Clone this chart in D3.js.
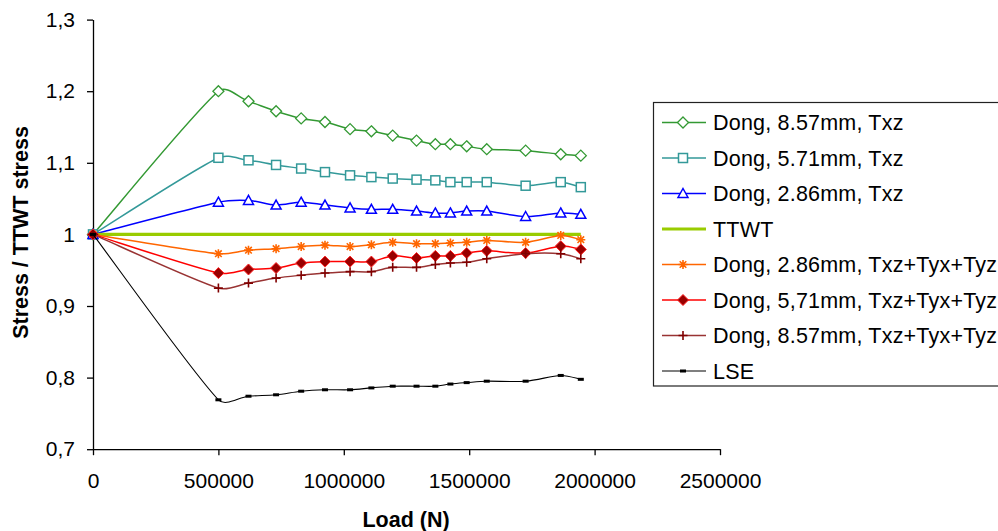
<!DOCTYPE html>
<html>
<head>
<meta charset="utf-8">
<script src="https://cdn.jsdelivr.net/npm/d3@7"></script>
<style>
  html, body { margin: 0; padding: 0; background: #fff; }
  svg { display: block; }
  text { font-family: "Liberation Sans", Arial, sans-serif; fill: #000; }
</style>
</head>
<body>
<svg id="chart" width="998" height="531"></svg>
<script>
// ---- data ----
const loads = [0, 500000, 620000, 730000, 830000, 925000, 1025000, 1110000, 1195000, 1290000, 1365000, 1425000, 1490000, 1570000, 1725000, 1865000, 1945000];

const dong857Txz = [1, 1.200, 1.186, 1.172, 1.162, 1.157, 1.147, 1.144, 1.138, 1.131, 1.126, 1.126, 1.123, 1.119, 1.117, 1.112, 1.110];
const dong571Txz = [1, 1.107, 1.1035, 1.097, 1.092, 1.087, 1.0825, 1.080, 1.078, 1.0765, 1.0755, 1.073, 1.073, 1.073, 1.068, 1.073, 1.066];
const dong286Txz = [1, 1.045, 1.0475, 1.041, 1.045, 1.041, 1.037, 1.035, 1.035, 1.0326, 1.030, 1.030, 1.0326, 1.0326, 1.025, 1.030, 1.028];
const ttwt       = [1, 1, 1, 1, 1, 1, 1, 1, 1, 1, 1, 1, 1, 1, 1, 1, 1];
const dong286All = [1, 0.973, 0.978, 0.980, 0.983, 0.985, 0.983, 0.9855, 0.989, 0.987, 0.987, 0.988, 0.989, 0.9916, 0.989, 0.9986, 0.9926];
const dong571All = [1, 0.946, 0.951, 0.953, 0.960, 0.962, 0.962, 0.962, 0.970, 0.967, 0.970, 0.970, 0.974, 0.977, 0.974, 0.9836, 0.979];
const dong857All = [1, 0.925, 0.932, 0.939, 0.943, 0.946, 0.948, 0.948, 0.954, 0.954, 0.958, 0.960, 0.961, 0.966, 0.973, 0.973, 0.966];
const lse        = [1, 0.769, 0.774, 0.776, 0.781, 0.783, 0.783, 0.7856, 0.788, 0.788, 0.788, 0.791, 0.793, 0.795, 0.795, 0.803, 0.7976];

const seriesNames = ["Dong, 8.57mm, Txz", "Dong, 5.71mm, Txz", "Dong, 2.86mm, Txz", "TTWT",
  "Dong, 2.86mm, Txz+Tyx+Tyz", "Dong, 5,71mm, Txz+Tyx+Tyz", "Dong, 8.57mm, Txz+Tyx+Tyz", "LSE"];
const seriesValues = [dong857Txz, dong571Txz, dong286Txz, ttwt, dong286All, dong571All, dong857All, lse];

const xTicks = [0, 500000, 1000000, 1500000, 2000000, 2500000];
const yTicks = [0.7, 0.8, 0.9, 1.0, 1.1, 1.2, 1.3];
const xTitle = "Load (N)";
const yTitle = "Stress / TTWT stress";

// ---- styles ----
const styles = [
  { color: "#339933", width: 1.5, marker: "diamondOpen" },
  { color: "#339999", width: 1.5, marker: "squareOpen" },
  { color: "#0000ff", width: 1.5, marker: "triangleOpen" },
  { color: "#99cc00", width: 3.2, marker: null },
  { color: "#ff6600", width: 1.5, marker: "star" },
  { color: "#ff0000", width: 1.5, marker: "diamondFilled" },
  { color: "#993333", width: 1.5, marker: "plus" },
  { color: "#000000", width: 1.1, marker: "dash" }
];

// Excel-like smoothing curve for d3.line: Bezier segments whose tangent at each
// point follows (next - previous), with handles limited by the segment length.
function ExcelSmooth(context) { this._context = context; }
ExcelSmooth.prototype = {
  areaStart() { this._line = 0; },
  areaEnd() { this._line = NaN; },
  lineStart() { this._pts = []; },
  point(x, y) { this._pts.push([+x, +y]); },
  lineEnd() {
    const p = this._pts, n = p.length, c = this._context;
    if (!n) return;
    c.moveTo(p[0][0], p[0][1]);
    if (n === 1) return;
    const tan = p.map((pt, i) => {
      const a = p[Math.max(0, i - 1)], b = p[Math.min(n - 1, i + 1)];
      const dx = b[0] - a[0], dy = b[1] - a[1], L = Math.hypot(dx, dy) || 1;
      return [dx / L, dy / L, L];
    });
    for (let i = 0; i < n - 1; i++) {
      const a = p[i], b = p[i + 1];
      const d = Math.hypot(b[0] - a[0], b[1] - a[1]);
      const ha = Math.min(tan[i][2] / 6, d / 3);
      const hb = Math.min(tan[i + 1][2] / 6, d / 3);
      c.bezierCurveTo(a[0] + tan[i][0] * ha, a[1] + tan[i][1] * ha,
                      b[0] - tan[i + 1][0] * hb, b[1] - tan[i + 1][1] * hb,
                      b[0], b[1]);
    }
  }
};
const excelSmooth = ctx => new ExcelSmooth(ctx);

const svg = d3.select("#chart");

const x = d3.scaleLinear().domain([0, 2500000]).range([93, 720]);
const y = d3.scaleLinear().domain([0.7, 1.3]).range([449.2, 19.6]);

// axes
const xAxis = d3.axisBottom(x).tickValues(xTicks).tickFormat(d3.format("d")).tickSize(6).tickSizeOuter(0).tickPadding(18);
const yAxis = d3.axisLeft(y).tickValues(yTicks).tickFormat(d => d3.format(".1~f")(d).replace(".", ",")).tickSize(6).tickSizeOuter(0).tickPadding(12);

const gx = svg.append("g").attr("transform", `translate(0,${y(0.7)})`).call(xAxis);
const gy = svg.append("g").attr("transform", `translate(${x(0)},0)`).call(yAxis);
[gx, gy].forEach(g => {
  g.selectAll("path.domain").attr("stroke", "#000").attr("stroke-width", 1.3);
  g.selectAll(".tick line").attr("stroke", "#000").attr("stroke-width", 1.3);
  g.selectAll("text").attr("font-size", 21).attr("font-family", "Liberation Sans, Arial, sans-serif").attr("fill", "#000");
});

// titles
svg.append("text").attr("x", 406).attr("y", 526.5).attr("text-anchor", "middle")
  .attr("font-size", 21.5).attr("font-weight", "bold").text(xTitle);
svg.append("text").attr("transform", "translate(28.3,232.5) rotate(-90)").attr("text-anchor", "middle")
  .attr("font-size", 21.5).attr("font-weight", "bold").text(yTitle);

// markers
function drawMarker(g, type, color) {
  switch (type) {
    case "diamondOpen":
      g.append("path").attr("d", "M0,-5.5L5.5,0L0,5.5L-5.5,0Z").attr("fill", "#fff").attr("stroke", color).attr("stroke-width", 1.3); break;
    case "squareOpen":
      g.append("rect").attr("x", -4.5).attr("y", -4.5).attr("width", 9).attr("height", 9).attr("fill", "#fff").attr("stroke", color).attr("stroke-width", 1.5); break;
    case "triangleOpen":
      g.append("path").attr("d", "M0,-5L5,4L-5,4Z").attr("fill", "#fff").attr("stroke", color).attr("stroke-width", 1.5); break;
    case "star":
      g.append("path").attr("d", "M-4.5,0H4.5M0,-4.5V4.5M-3.3,-3.3L3.3,3.3M-3.3,3.3L3.3,-3.3").attr("stroke", color).attr("stroke-width", 1.6); break;
    case "diamondFilled":
      g.append("path").attr("d", "M0,-5.5L5.5,0L0,5.5L-5.5,0Z").attr("fill", "#990000").attr("stroke", "#ff2020").attr("stroke-width", 1); break;
    case "plus":
      g.append("path").attr("d", "M-4.5,0H4.5M0,-4.5V4.5").attr("stroke", "#800000").attr("stroke-width", 1.6); break;
    case "dash":
      g.append("rect").attr("x", -3).attr("y", -1.5).attr("width", 6).attr("height", 3).attr("fill", "#000"); break;
  }
}

const line = d3.line().x(d => x(d[0])).y(d => y(d[1])).curve(excelSmooth);

seriesValues.forEach((vals, i) => {
  const st = styles[i];
  const pts = loads.map((l, j) => [l, vals[j]]);
  const g = svg.append("g");
  g.append("path").attr("d", line(pts)).attr("fill", "none").attr("stroke", st.color).attr("stroke-width", st.width);
  if (st.marker) {
    pts.forEach(p => {
      const mg = g.append("g").attr("transform", `translate(${x(p[0])},${y(p[1])})`);
      drawMarker(mg, st.marker, st.color);
    });
  }
});

// legend
const legend = svg.append("g");
legend.append("rect").attr("x", 653.5).attr("y", 102.5).attr("width", 400).attr("height", 283.5)
  .attr("fill", "#fff").attr("stroke", "#222").attr("stroke-width", 1.2);
seriesNames.forEach((name, i) => {
  const st = styles[i];
  const ly = 122.5 + i * 35.5;
  legend.append("line").attr("x1", 662).attr("x2", 706).attr("y1", ly).attr("y2", ly)
    .attr("stroke", st.color).attr("stroke-width", st.width);
  if (st.marker) {
    const mg = legend.append("g").attr("transform", `translate(683,${ly})`);
    drawMarker(mg, st.marker, st.color);
  }
  legend.append("text").attr("x", 713).attr("y", ly).attr("dy", "0.35em")
    .attr("font-size", 21.5).attr("letter-spacing", "0.2px").text(name);
});
</script>
</body>
</html>
